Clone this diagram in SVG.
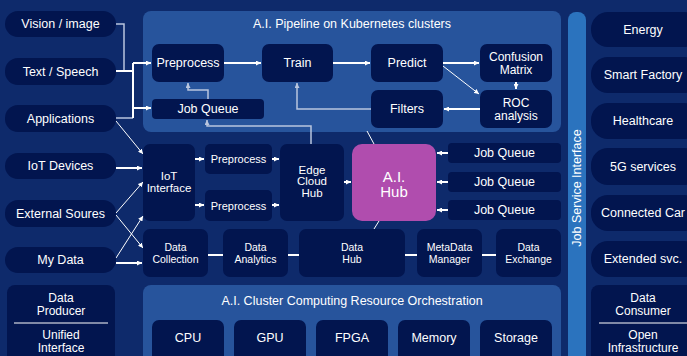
<svg xmlns="http://www.w3.org/2000/svg" width="687" height="356" viewBox="0 0 687 356">
  <defs>
    <style>
      text { font-family: "Liberation Sans", Arial, sans-serif; fill: #ffffff; text-anchor: middle; dominant-baseline: central; font-size: 12.5px; }
      .node { fill: #02154f; }
      .panel { fill: #27549c; }
      .sm { font-size: 10.5px; }
      .md { font-size: 11.5px; }
      .pre { font-size: 11px; }
      .two { font-size: 12px; }
      .hub { font-size: 15px; }
      .w { stroke: #ffffff; stroke-width: 2; fill: none; }
      .t { stroke: #ffffff; stroke-width: 1; fill: none; }
      .g { stroke: #b9c5de; stroke-width: 1.5; fill: none; }
    </style>
    <marker id="aw" viewBox="0 0 6 6" refX="6" refY="3" markerWidth="5" markerHeight="5" markerUnits="userSpaceOnUse" orient="auto">
      <path d="M0,0 L6,3 L0,6 z" fill="#ffffff"/>
    </marker>
    <marker id="ag" viewBox="0 0 6 6" refX="6" refY="3" markerWidth="5" markerHeight="5" markerUnits="userSpaceOnUse" orient="auto">
      <path d="M0,0 L6,3 L0,6 z" fill="#b9c5de"/>
    </marker>
  </defs>

  <!-- background -->
  <rect x="0" y="0" width="687" height="356" fill="#0e2a6b"/>

  <!-- panels -->
  <g id="pipeline-panel">
    <rect class="panel" x="143" y="11" width="418" height="121" rx="8"/>
    <text x="352" y="24">A.I. Pipeline on Kubernetes clusters</text>
  </g>
  <g id="cluster-panel">
    <rect class="panel" x="143" y="285" width="418" height="90" rx="8"/>
    <text x="352" y="301">A.I. Cluster Computing Resource Orchestration</text>
  </g>
  <g id="job-service-interface">
    <rect x="568" y="12" width="18" height="360" rx="8" fill="#2b73be"/>
    <text transform="translate(577,188) rotate(-90)">Job Service Interface</text>
  </g>

  <!-- connectors -->
  <g id="connectors">
    <!-- sources into pipeline -->
    <path class="g" d="M116 24 H124 V71"/>
    <path class="g" d="M116 118 H133"/>
    <path class="w" d="M116 71 H133"/>
    <path class="w" d="M133 63 V118"/>
    <path class="w" d="M133 63 H151" marker-end="url(#aw)"/>
    <path class="w" d="M133 108 H151" marker-end="url(#aw)"/>

    <!-- pipeline flow -->
    <path class="w" d="M224 63 H261" marker-end="url(#aw)"/>
    <path class="w" d="M333 63 H370" marker-end="url(#aw)"/>
    <path class="w" d="M443 63 H479" marker-end="url(#aw)"/>
    <path class="t" d="M443 66 L479 94" marker-end="url(#aw)"/>
    <path class="w" d="M516 82 V89" marker-end="url(#aw)"/>
    <path class="w" d="M480 109 H444" marker-end="url(#aw)"/>
    <path class="g" d="M371 109 H297 V83" marker-end="url(#ag)"/>
    <path class="g" d="M208 99 V90 H188 V83" marker-end="url(#ag)"/>
    <path class="g" d="M311 144 V126 H207 V120" marker-end="url(#ag)"/>
    <path class="t" d="M367 131 L374 144"/>
    <path class="t" d="M379 221 L374 229"/>

    <!-- sources into edge layer -->
    <path class="t" d="M116 121 L143 154" marker-end="url(#aw)"/>
    <path class="w" d="M116 168 H142" marker-end="url(#aw)"/>
    <path class="t" d="M116 213 L143 182" marker-end="url(#aw)"/>
    <path class="t" d="M116 215 L143 248" marker-end="url(#aw)"/>
    <path class="t" d="M116 258 L143 216" marker-end="url(#aw)"/>
    <path class="w" d="M116 263 H142" marker-end="url(#aw)"/>

    <path class="w" d="M195 159 H204" marker-end="url(#aw)"/>
    <path class="w" d="M195 205 H204" marker-end="url(#aw)"/>
    <path class="w" d="M272 159 H279" marker-end="url(#aw)"/>
    <path class="w" d="M272 205 H279" marker-end="url(#aw)"/>
    <path class="w" d="M344 182 H351" marker-end="url(#aw)"/>

    <path class="w" d="M448 153 H437" marker-end="url(#aw)"/>
    <path class="w" d="M448 182 H437" marker-end="url(#aw)"/>
    <path class="w" d="M448 210 H437" marker-end="url(#aw)"/>

    <!-- data bus -->
    <path class="w" d="M208 255 H223"/>
    <path class="w" d="M288 255 H299"/>
    <path class="w" d="M405 255 H417"/>
    <path class="w" d="M482 255 H496"/>
  </g>

  <!-- left sources -->
  <g id="vision-image"><rect class="node" x="5" y="11" width="111" height="26" rx="13"/><text x="60.5" y="24">Vision / image</text></g>
  <g id="text-speech"><rect class="node" x="5" y="58" width="111" height="27" rx="13"/><text x="60.5" y="71.5">Text / Speech</text></g>
  <g id="applications"><rect class="node" x="5" y="105" width="111" height="27" rx="13"/><text x="60.5" y="118.5">Applications</text></g>
  <g id="iot-devices"><rect class="node" x="5" y="153" width="111" height="26" rx="13"/><text x="60.5" y="166">IoT Devices</text></g>
  <g id="external-sources"><rect class="node" x="5" y="200" width="111" height="27" rx="13"/><text x="60.5" y="213.5">External Soures</text></g>
  <g id="my-data"><rect class="node" x="5" y="247" width="111" height="26" rx="13"/><text x="60.5" y="260">My Data</text></g>
  <g id="data-producer">
    <rect class="node" x="7" y="285" width="108" height="90" rx="8"/>
    <text class="two" x="61" y="298">Data</text>
    <text class="two" x="61" y="311">Producer</text>
    <line x1="14" y1="323" x2="108" y2="323" stroke="#ffffff" stroke-width="1"/>
    <text class="two" x="61" y="335">Unified</text>
    <text class="two" x="61" y="348">Interface</text>
  </g>

  <!-- pipeline nodes -->
  <g id="preprocess"><rect class="node" x="152" y="44" width="72" height="38" rx="7"/><text x="188" y="63">Preprocess</text></g>
  <g id="train"><rect class="node" x="262" y="44" width="71" height="38" rx="7"/><text x="297.5" y="63">Train</text></g>
  <g id="predict"><rect class="node" x="371" y="44" width="72" height="38" rx="7"/><text x="407" y="63">Predict</text></g>
  <g id="confusion-matrix"><rect class="node" x="480" y="44" width="72" height="38" rx="7"/><text class="two" x="516" y="57">Confusion</text><text class="two" x="516" y="70">Matrix</text></g>
  <g id="roc-analysis"><rect class="node" x="480" y="90" width="72" height="38" rx="7"/><text class="two" x="516" y="102.5">ROC</text><text class="two" x="516" y="115.5">analysis</text></g>
  <g id="filters"><rect class="node" x="371" y="90" width="72" height="38" rx="7"/><text x="407" y="109">Filters</text></g>
  <g id="pipeline-job-queue"><rect class="node" x="152" y="99" width="112" height="20" rx="4"/><text x="208" y="109">Job Queue</text></g>

  <!-- edge layer -->
  <g id="iot-interface"><rect class="node" x="143" y="144" width="52" height="77" rx="7"/><text class="md" x="169" y="175.5">IoT</text><text class="md" x="169" y="187.5">Interface</text></g>
  <g id="preprocess-a"><rect class="node" x="205" y="144" width="67" height="30" rx="5"/><text class="pre" x="238.5" y="159">Preprocess</text></g>
  <g id="preprocess-b"><rect class="node" x="205" y="190" width="67" height="31" rx="5"/><text class="pre" x="238.5" y="205.5">Preprocess</text></g>
  <g id="edge-cloud-hub"><rect class="node" x="280" y="144" width="64" height="77" rx="7"/><text class="md" x="312" y="169.5">Edge</text><text class="md" x="312" y="181">Cloud</text><text class="md" x="312" y="192.5">Hub</text></g>
  <g id="ai-hub"><rect x="352" y="144" width="84" height="77" rx="10" fill="#b04dae"/><text class="hub" x="394" y="176">A.I.</text><text class="hub" x="394" y="191.5">Hub</text></g>
  <g id="job-queue-1"><rect class="node" x="448" y="143" width="113" height="20" rx="4"/><text x="504.5" y="153">Job Queue</text></g>
  <g id="job-queue-2"><rect class="node" x="448" y="172" width="113" height="20" rx="4"/><text x="504.5" y="182">Job Queue</text></g>
  <g id="job-queue-3"><rect class="node" x="448" y="200" width="113" height="20" rx="4"/><text x="504.5" y="210">Job Queue</text></g>

  <!-- data layer -->
  <g id="data-collection"><rect class="node" x="143" y="229" width="65" height="48" rx="7"/><text class="sm" x="175.5" y="247">Data</text><text class="sm" x="175.5" y="259">Collection</text></g>
  <g id="data-analytics"><rect class="node" x="223" y="229" width="65" height="48" rx="7"/><text class="sm" x="255.5" y="247">Data</text><text class="sm" x="255.5" y="259">Analytics</text></g>
  <g id="data-hub"><rect class="node" x="299" y="229" width="106" height="48" rx="7"/><text class="sm" x="352" y="247">Data</text><text class="sm" x="352" y="259">Hub</text></g>
  <g id="metadata-manager"><rect class="node" x="417" y="229" width="65" height="48" rx="7"/><text class="sm" x="449.5" y="247">MetaData</text><text class="sm" x="449.5" y="259">Manager</text></g>
  <g id="data-exchange"><rect class="node" x="496" y="229" width="65" height="48" rx="7"/><text class="sm" x="528.5" y="247">Data</text><text class="sm" x="528.5" y="259">Exchange</text></g>

  <!-- cluster resources -->
  <g id="cpu"><rect class="node" x="152" y="320" width="72" height="50" rx="7"/><text x="188" y="338">CPU</text></g>
  <g id="gpu"><rect class="node" x="234" y="320" width="72" height="50" rx="7"/><text x="270" y="338">GPU</text></g>
  <g id="fpga"><rect class="node" x="316" y="320" width="72" height="50" rx="7"/><text x="352" y="338">FPGA</text></g>
  <g id="memory"><rect class="node" x="398" y="320" width="72" height="50" rx="7"/><text x="434" y="338">Memory</text></g>
  <g id="storage"><rect class="node" x="480" y="320" width="72" height="50" rx="7"/><text x="516" y="338">Storage</text></g>

  <!-- consumers -->
  <g id="energy"><rect class="node" x="591" y="12" width="110" height="35" rx="17"/><text x="643" y="29.5">Energy</text></g>
  <g id="smart-factory"><rect class="node" x="591" y="57" width="110" height="36" rx="17"/><text x="643" y="75">Smart Factory</text></g>
  <g id="healthcare"><rect class="node" x="591" y="103" width="110" height="36" rx="17"/><text x="643" y="121">Healthcare</text></g>
  <g id="5g-services"><rect class="node" x="591" y="148" width="110" height="37" rx="17"/><text x="643" y="166.5">5G services</text></g>
  <g id="connected-car"><rect class="node" x="591" y="195" width="110" height="36" rx="17"/><text x="643" y="213">Connected Car</text></g>
  <g id="extended-svc"><rect class="node" x="591" y="241" width="110" height="36" rx="17"/><text x="643" y="259">Extended svc.</text></g>
  <g id="data-consumer">
    <rect class="node" x="591" y="285" width="110" height="90" rx="8"/>
    <text class="two" x="643" y="298">Data</text>
    <text class="two" x="643" y="311">Consumer</text>
    <line x1="599" y1="323" x2="695" y2="323" stroke="#ffffff" stroke-width="1"/>
    <text class="two" x="643" y="335">Open</text>
    <text class="two" x="643" y="348">Infrastructure</text>
  </g>
</svg>
